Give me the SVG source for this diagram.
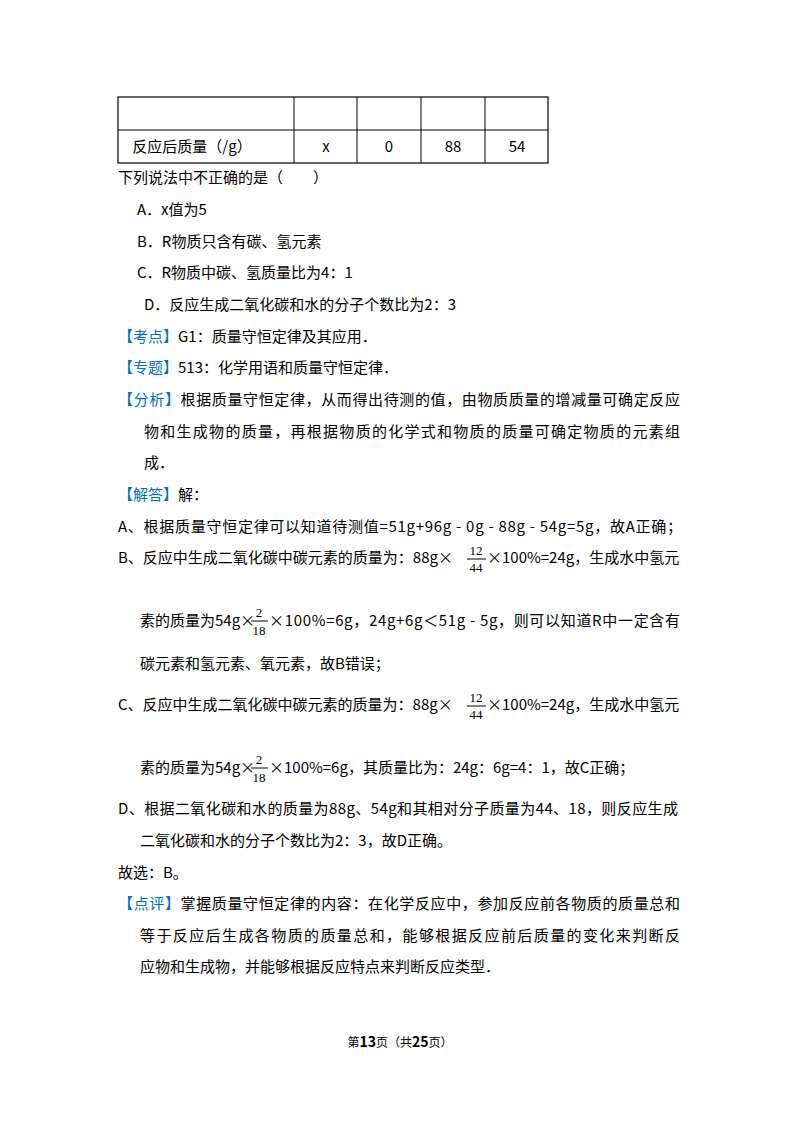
<svg xmlns="http://www.w3.org/2000/svg" width="800" height="1132" viewBox="0 0 800 1132">
<style>
text{font-family:"Noto Sans CJK SC","Noto Sans",sans-serif;font-size:15px;fill:#000}
.b{fill:#0070c0}
.f{font-size:13px;font-family:"Liberation Serif","Noto Sans CJK SC",serif}
.ft{font-size:12px;font-family:"Noto Sans CJK SC",sans-serif}
line{stroke:#000;stroke-width:1}
</style>
<rect width="800" height="1132" fill="#fff"/>
<g fill="none" stroke="#000" stroke-width="1.2">
<rect x="118" y="97" width="430" height="66"/>
<line x1="118" y1="130" x2="548" y2="130"/>
<line x1="294" y1="97" x2="294" y2="163"/>
<line x1="357" y1="97" x2="357" y2="163"/>
<line x1="421" y1="97" x2="421" y2="163"/>
<line x1="485" y1="97" x2="485" y2="163"/>
</g>
<g text-anchor="middle">
<text x="192" y="152">反应后质量（/g）</text>
<text x="326" y="152">x</text>
<text x="389" y="152">0</text>
<text x="453" y="152">88</text>
<text x="517" y="152">54</text>
</g>
<text x="118" y="183">下列说法中不正确的是（　　）</text>
<text x="137" y="215">A．x值为5</text>
<text x="137" y="247">B．R物质只含有碳、氢元素</text>
<text x="137" y="278">C．R物质中碳、氢质量比为4：1</text>
<text x="144" y="310">D．反应生成二氧化碳和水的分子个数比为2：3</text>
<text x="118" y="342"><tspan class="b">【考点】</tspan>G1：质量守恒定律及其应用．</text>
<text x="118" y="373"><tspan class="b">【专题】</tspan>513：化学用语和质量守恒定律．</text>
<text x="118" y="405" textLength="562"><tspan class="b">【分析】</tspan>根据质量守恒定律，从而得出待测的值，由物质质量的增减量可确定反应</text>
<text x="144" y="437" textLength="536">物和生成物的质量，再根据物质的化学式和物质的质量可确定物质的元素组</text>
<text x="144" y="468">成．</text>
<text x="118" y="500"><tspan class="b">【解答】</tspan>解：</text>
<text x="118" y="532" textLength="564">A、根据质量守恒定律可以知道待测值=51g+96g - 0g - 88g - 54g=5g，故A正确；</text>
<text x="118" y="563">B、反应中生成二氧化碳中碳元素的质量为：88g×</text>
<text x="476" y="555" class="f" text-anchor="middle">12</text>
<line x1="467" y1="559" x2="486" y2="559"/>
<text x="476" y="572" class="f" text-anchor="middle">44</text>
<text x="487" y="563">×100%=24g，生成水中氢元</text>
<text x="140" y="626">素的质量为54g×</text>
<text x="259" y="617" class="f" text-anchor="middle">2</text>
<line x1="251" y1="621" x2="268" y2="621"/>
<text x="259" y="635" class="f" text-anchor="middle">18</text>
<text x="269" y="626" textLength="411">×100%=6g，24g+6g＜51g - 5g，则可以知道R中一定含有</text>
<text x="140" y="669">碳元素和氢元素、氧元素，故B错误；</text>
<text x="118" y="710">C、反应中生成二氧化碳中碳元素的质量为：88g×</text>
<text x="476" y="702" class="f" text-anchor="middle">12</text>
<line x1="467" y1="706" x2="486" y2="706"/>
<text x="476" y="719" class="f" text-anchor="middle">44</text>
<text x="487" y="710">×100%=24g，生成水中氢元</text>
<text x="140" y="773">素的质量为54g×</text>
<text x="259" y="764" class="f" text-anchor="middle">2</text>
<line x1="251" y1="768" x2="268" y2="768"/>
<text x="259" y="782" class="f" text-anchor="middle">18</text>
<text x="269" y="773">×100%=6g，其质量比为：24g：6g=4：1，故C正确；</text>
<text x="118" y="814" textLength="560">D、根据二氧化碳和水的质量为88g、54g和其相对分子质量为44、18，则反应生成</text>
<text x="140" y="846">二氧化碳和水的分子个数比为2：3，故D正确。</text>
<text x="118" y="878">故选：B。</text>
<text x="118" y="909" textLength="562"><tspan class="b">【点评】</tspan>掌握质量守恒定律的内容：在化学反应中，参加反应前各物质的质量总和</text>
<text x="140" y="941" textLength="540">等于反应后生成各物质的质量总和，能够根据反应前后质量的变化来判断反</text>
<text x="140" y="972">应物和生成物，并能够根据反应特点来判断反应类型．</text>
<text x="400" y="1047" class="ft" text-anchor="middle">第<tspan font-weight="bold" font-size="14">13</tspan>页（共<tspan font-weight="bold" font-size="14">25</tspan>页）</text>
</svg>
